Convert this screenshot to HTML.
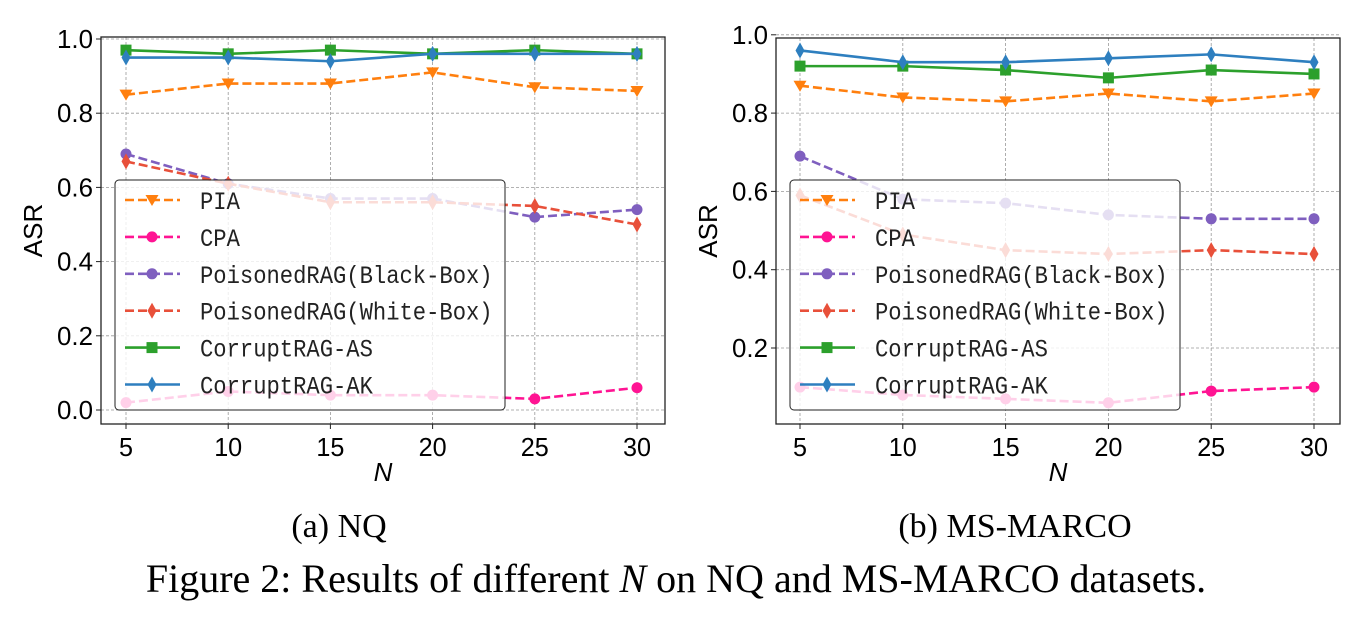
<!DOCTYPE html>
<html><head><meta charset="utf-8">
<style>
body{margin:0;background:#fff;width:1354px;height:618px;overflow:hidden}
svg text{font-family:"Liberation Sans",sans-serif}
.cap{font-family:"Liberation Serif",serif;fill:#000}
</style></head>
<body>
<svg id="fig" width="1354" height="618" viewBox="0 0 1354 618" xmlns="http://www.w3.org/2000/svg">
<text class="cap" x="339" y="537" font-size="34" text-anchor="middle">(a) NQ</text>
<text class="cap" x="1015" y="537" font-size="34" text-anchor="middle">(b) MS-MARCO</text>
<text class="cap" x="676" y="592" font-size="40" text-anchor="middle">Figure 2: Results of different <tspan font-style="italic">N</tspan> on NQ and MS-MARCO datasets.</text>
</svg>
<script>
const categories=[5,10,15,20,25,30];
const seriesNames=["PIA","CPA","PoisonedRAG(Black-Box)","PoisonedRAG(White-Box)","CorruptRAG-AS","CorruptRAG-AK"];
const nqPIA=[0.85,0.88,0.88,0.91,0.87,0.86];
const nqCPA=[0.02,0.05,0.04,0.04,0.03,0.06];
const nqPB=[0.69,0.61,0.57,0.57,0.52,0.54];
const nqPW=[0.67,0.61,0.56,0.56,0.55,0.50];
const nqAS=[0.97,0.96,0.97,0.96,0.97,0.96];
const nqAK=[0.95,0.95,0.94,0.96,0.96,0.96];
const msPIA=[0.87,0.84,0.83,0.85,0.83,0.85];
const msCPA=[0.10,0.08,0.07,0.06,0.09,0.10];
const msPB=[0.69,0.58,0.57,0.54,0.53,0.53];
const msPW=[0.59,0.49,0.45,0.44,0.45,0.44];
const msAS=[0.92,0.92,0.91,0.89,0.91,0.90];
const msAK=[0.96,0.93,0.93,0.94,0.95,0.93];
const nqYTicks=[0.0,0.2,0.4,0.6,0.8,1.0];
const msYTicks=[0.2,0.4,0.6,0.8,1.0];

const NS="http://www.w3.org/2000/svg";
const svg=document.getElementById('fig');
const colors=["#ff7f0e","#ff1493","#7f5fbf","#e8503a","#2ca02c","#2e7fbf"];
const dashed=[true,true,true,true,false,false];
const markers=["tri","circle","circle","diamond","square","diamond"];
function mk(tag,attrs,parent){const e=document.createElementNS(NS,tag);for(const k in attrs)e.setAttribute(k,attrs[k]);(parent||svg).appendChild(e);return e;}
function marker(g,type,x,y,c){
  let e;
  if(type==="tri")e=mk('path',{d:`M${x-6.5},${y-5} L${x+6.5},${y-5} L${x},${y+6} Z`,fill:c},g);
  else if(type==="circle")e=mk('circle',{cx:x,cy:y,r:5.5,fill:c},g);
  else if(type==="square")e=mk('rect',{x:x-5.5,y:y-5.5,width:11,height:11,fill:c},g);
  else e=mk('path',{d:`M${x},${y-8} L${x+4.5},${y} L${x},${y+8} L${x-4.5},${y} Z`,fill:c},g);
  
  
}
function chart(id,cfg,data,yTicks){
  const g=mk('g',{});
  
  
  const X=v=>cfg.x5+(v-5)*(cfg.x30-cfg.x5)/25;
  const Y=v=>cfg.y0-(v-cfg.v0)*cfg.ppu;
  categories.forEach(c=>{const l=mk('line',{x1:X(c),x2:X(c),y1:cfg.top,y2:cfg.bot,stroke:"#999","stroke-dasharray":"3,2","stroke-width":0.8},g);
    });
  yTicks.forEach(t=>{const l=mk('line',{x1:cfg.left,x2:cfg.right,y1:Y(t),y2:Y(t),stroke:"#999","stroke-dasharray":"3,2","stroke-width":0.8},g);
    });
  data.forEach((arr,i)=>{
    const s=mk('g',{},g);
    
    
    const pts=arr.map((v,j)=>X(categories[j])+','+Y(v)).join(' ');
    const a={points:pts,fill:"none",stroke:colors[i],"stroke-width":2.6};
    if(dashed[i])a["stroke-dasharray"]="9,4";
    mk('polyline',a,s);
    arr.forEach((v,j)=>marker(s,markers[i],X(categories[j]),Y(v),colors[i]));
  });
  const box=mk('rect',{x:cfg.left,y:cfg.top,width:cfg.right-cfg.left,height:cfg.bot-cfg.top,fill:"none",stroke:"#222","stroke-width":1.3},g);
  
  categories.forEach(c=>{
    mk('line',{x1:X(c),x2:X(c),y1:cfg.bot,y2:cfg.bot+5,stroke:"#222"},g);
    const s=String(c);
    const t=mk('text',{x:X(c),y:cfg.bot+32,"font-size":26,"text-anchor":"middle",fill:"#000",textLength:s.length*14,lengthAdjust:"spacingAndGlyphs"},g);
    t.textContent=s;
  });
  yTicks.forEach(v=>{
    mk('line',{x1:cfg.left-5,x2:cfg.left,y1:Y(v),y2:Y(v),stroke:"#222"},g);
    const t=mk('text',{x:cfg.left-8,y:Y(v)+9,"font-size":26,"text-anchor":"end",fill:"#000",textLength:36,lengthAdjust:"spacingAndGlyphs"},g);
    t.textContent=v.toFixed(1);
  });
  const xt=mk('text',{x:(cfg.left+cfg.right)/2,y:481,"font-size":26,"font-style":"italic","text-anchor":"middle"},g);
  xt.textContent="N";
  const yt=mk('text',{x:0,y:0,"font-size":26,"text-anchor":"middle",transform:`translate(${cfg.left-59},${(cfg.top+cfg.bot)/2}) rotate(-90)`},g);
  yt.textContent="ASR";
  const lg=mk('g',{},g);
  
  mk('rect',{x:cfg.lx,y:180,width:390,height:230,rx:4,fill:"#fff","fill-opacity":0.8,stroke:"#222","stroke-width":1},lg);
  seriesNames.forEach((n,i)=>{
    const y=200+i*36.9;
    const e=mk('g',{},lg);
    
    const a={x1:cfg.lx+10,x2:cfg.lx+65,y1:y,y2:y,stroke:colors[i],"stroke-width":2.6};
    if(dashed[i])a["stroke-dasharray"]="9,4";
    mk('line',a,e);
    marker(e,markers[i],cfg.lx+37,y,colors[i]);
    const t=mk('text',{x:cfg.lx+85,y:y+9,"font-size":25,fill:"#222",style:'font-family:"Liberation Mono",monospace',textLength:n.length*13.3,lengthAdjust:"spacingAndGlyphs"},e);
    t.textContent=n;
  });
}
chart('chart-nq',{left:101,right:665,top:37,bot:424,x5:126,x30:637,y0:410,v0:0,ppu:371,lx:115},[nqPIA,nqCPA,nqPB,nqPW,nqAS,nqAK],nqYTicks);
chart('chart-msmarco',{left:776,right:1340,top:38,bot:424,x5:800,x30:1314,y0:348,v0:0.2,ppu:391.5,lx:790},[msPIA,msCPA,msPB,msPW,msAS,msAK],msYTicks);
</script>
</body></html>
